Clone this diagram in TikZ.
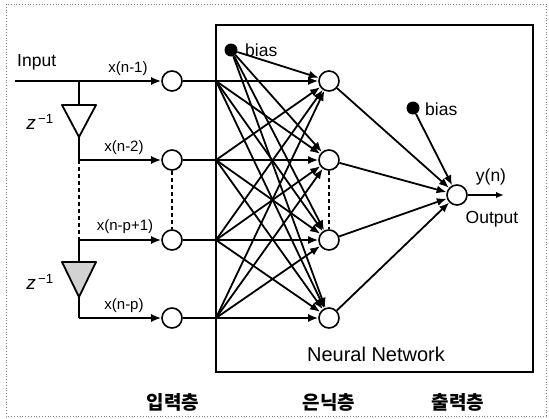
\documentclass[tikz,border=0pt]{standalone}
\usepackage{fontspec}
\setmainfont{Liberation Sans}
\newfontfamily\krfont{Noto Sans CJK KR}
\usetikzlibrary{arrows.meta}
\begin{document}
\begin{tikzpicture}[x=1pt,y=-1pt,
  wire/.style={line width=1.8pt},
  arr/.style={wire,-{Latex[length=10pt,width=8pt]}},
  neuron/.style={circle,draw,line width=1.6pt,fill=white,minimum size=20pt,inner sep=0pt},
  biasdot/.style={circle,fill=black,minimum size=13pt,inner sep=0pt},
  lab/.style={font=\fontsize{15}{17}\selectfont,inner sep=1pt},
  biglab/.style={font=\fontsize{17.5}{19}\selectfont,inner sep=1pt},
  kor/.style={font=\krfont\bfseries\fontsize{19}{21}\selectfont,inner sep=1pt},
  delay/.style={draw,line width=1.8pt,line join=round}
]
\useasboundingbox (0,0) rectangle (549,418);
\draw[dotted,gray,line width=0.8pt] (6,4) rectangle (546,416);

% neural network box
\draw[line width=1.8pt] (216,25) rectangle (533,372);
\node[biglab,font=\fontsize{20}{22}\selectfont] (nn) at (376,354) {Neural Network};

% input nodes
\node[neuron] (i1) at (172,81) {};
\node[neuron] (i2) at (172,160) {};
\node[neuron] (i3) at (172,240) {};
\node[neuron] (i4) at (172,318) {};
% hidden nodes
\node[neuron] (h1) at (329,81) {};
\node[neuron] (h2) at (329,160) {};
\node[neuron] (h3) at (329,240) {};
\node[neuron] (h4) at (329,318) {};
% output node
\node[neuron] (o) at (457,195) {};

% delay line coordinates
\coordinate (in) at (15,81);
\coordinate (j1) at (79,81);
\coordinate (t1top) at (79,105);
\coordinate (t1apex) at (79,137);
\coordinate (j2) at (79,160);
\coordinate (j3) at (79,240);
\coordinate (t2top) at (79,262);
\coordinate (t2apex) at (79,297);
\coordinate (j4) at (79,318);

% delay triangles
\draw[delay] (62,105) -- (96,105) -- (t1apex) -- cycle;
\draw[delay,fill=gray!35] (62,262) -- (96,262) -- (t2apex) -- cycle;
\node[biglab,font=\fontsize{19}{21}\selectfont] (z1) at (40,122) {\textit{z}\textsuperscript{\,−1}};
\node[biglab,font=\fontsize{19}{21}\selectfont] (z2) at (40,282) {\textit{z}\textsuperscript{\,−1}};

\node[biglab,anchor=west] (inlab) at (16,62) {Input};

\draw[arr] (in) -- (i1);
\draw[wire] (j1) -- (t1top);
\draw[wire] (t1apex) -- (j2);
\draw[arr] (j2) -- (i2);
\draw[wire,dash pattern=on 4pt off 3pt] (j2) -- (j3);
\draw[arr] (j3) -- (i3);
\draw[wire] (j3) -- (t2top);
\draw[wire] (t2apex) -- (j4);
\draw[arr] (j4) -- (i4);
\draw[wire,dash pattern=on 4pt off 3pt] (i2) -- (i3);
\draw[wire,dash pattern=on 4pt off 3pt] (h2) -- (h3);

\node[lab] (l1) at (128,69) {x(n-1)};
\node[lab] (l2) at (124,148) {x(n-2)};
\node[lab] (l3) at (125,227) {x(n-p+1)};
\node[lab] (l4) at (124,306) {x(n-p)};

% fan-out points on box edge
\coordinate (b1) at (216,81);
\coordinate (b2) at (216,160);
\coordinate (b3) at (216,240);
\coordinate (b4) at (216,318);
\foreach \k in {1,...,4}{
  \draw[wire] (i\k) -- (b\k);
  \foreach \j in {1,...,4}{
    \draw[arr] (b\k) -- (h\j);
  }
}

% hidden bias
\node[biasdot] (hb) at (231,50) {};
\node[biglab,anchor=west] (hbl) at (244,50) {bias};
\foreach \j in {1,...,4}{
  \draw[arr] (hb) -- (h\j);
}

% hidden to output
\foreach \j in {1,...,4}{
  \draw[arr] (h\j) -- (o);
}
\node[biasdot] (ob) at (413,108) {};
\node[biglab,anchor=west] (obl) at (424,109) {bias};
\draw[arr] (ob) -- (o);

\coordinate (oend) at (504,195);
\draw[wire,-{Latex[length=8pt,width=6.5pt]}] (o) -- (oend);
\node[biglab] (yn) at (491,177) {y(n)};
\node[biglab] (outl) at (492,219) {Output};

% layer labels
\node[kor] (k1) at (173,402) {입력층};
\node[kor] (k2) at (329,402) {은닉층};
\node[kor] (k3) at (458,402) {출력층};
\end{tikzpicture}
\end{document}
